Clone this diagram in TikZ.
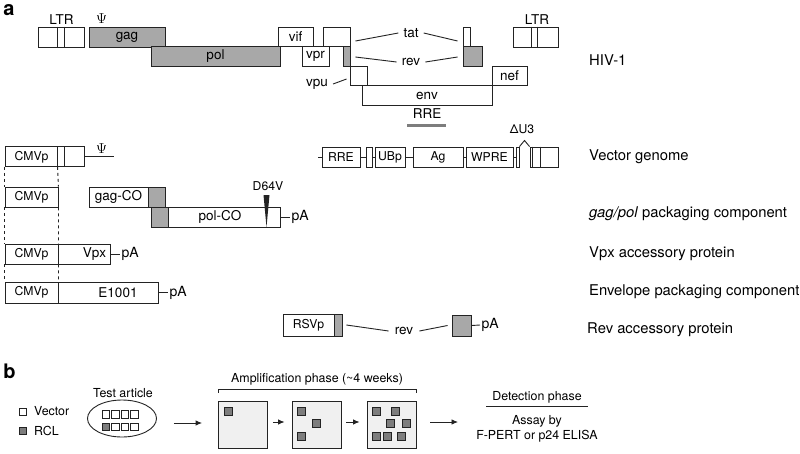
\documentclass[tikz,border=0pt]{standalone}
\usepackage{fontspec}
\setmainfont{TeX Gyre Heros}
\usetikzlibrary{shapes.geometric,arrows.meta,positioning}
\definecolor{genegray}{RGB}{168,168,168}
\definecolor{rclgray}{RGB}{125,125,125}
\definecolor{wellgray}{RGB}{240,240,240}
\definecolor{ink}{RGB}{35,35,35}

\begin{document}
\begin{tikzpicture}[x=1pt,y=-1pt,
  conn/.style={line width=0.9pt, draw=ink},
  gene/.style={conn, fill=white, inner sep=0pt, minimum height=19.5,
    font=\fontsize{13.5}{15}\selectfont},
  graygene/.style={gene, fill=genegray},
  smalltxt/.style={font=\fontsize{12.2}{14}\selectfont},
  lbl/.style={font=\fontsize{13.5}{15}\selectfont, inner sep=5pt},
  rowname/.style={anchor=west, inner sep=0pt, font=\fontsize{14.8}{16}\selectfont},
  pa/.style={anchor=west, inner sep=1.5pt, font=\fontsize{14}{16}\selectfont},
  psi/.style={font=\fontsize{15}{17}\selectfont},
  panel/.style={font=\fontsize{20}{22}\selectfont\bfseries},
  stage/.style={font=\fontsize{12.4}{15}\selectfont},
  arr/.style={conn, -{Latex[length=6.5pt,width=5.5pt]}},
  well/.style={conn, fill=wellgray, minimum width=49, minimum height=47, inner sep=0pt},
  rclsq/.style={conn, line width=0.7pt, fill=rclgray},
  vecsq/.style={conn, line width=0.7pt, fill=white},
]
\useasboundingbox (0,0) rectangle (800,453);
\fill[white] (0,0) rectangle (800,453);

% panel a: HIV-1 genome
\node[panel] (a) at (9,10) {a};

\node[gene, minimum width=46, minimum height=20] (ltr5) at (61,37) {};
\draw[conn] ([xshift=20]ltr5.north west) -- ([xshift=20]ltr5.south west)
            ([xshift=27]ltr5.north west) -- ([xshift=27]ltr5.south west);
\node[lbl, inner sep=0pt] (ltr5l) at (61.5,20) {LTR};
\node[psi] (psi1) at (101.5,19) {$\Psi$};
\node[graygene, minimum width=76, minimum height=20] (gag) at (127,37) {gag};
\node[graygene, minimum width=129] (pol) at (215.5,56.5) {pol};
\node[gene, minimum width=35] (vif) at (295.5,37) {vif};
\node[gene, minimum width=27] (vpr) at (315.5,56.5) {vpr};
\node[gene, minimum width=27] (tat1) at (336.5,37) {};
\node[graygene, minimum width=7] (rev1) at (346.5,56.5) {};
\node[gene, minimum width=17] (vpu) at (358.5,76) {};
\node[gene, minimum width=130] (env) at (427,95.5) {env};
\node[gene, minimum width=35] (nef) at (509.5,76) {nef};
\node[gene, minimum width=7] (tat2) at (466.5,37) {};
\node[graygene, minimum width=19] (rev2) at (472.5,56.5) {};
\node[gene, minimum width=45, minimum height=20] (ltr3) at (535.5,37) {};
\draw[conn] ([xshift=19]ltr3.north west) -- ([xshift=19]ltr3.south west)
            ([xshift=25]ltr3.north west) -- ([xshift=25]ltr3.south west);
\node[lbl, inner sep=0pt] (ltr3l) at (537,20) {LTR};

\node[lbl] (tat) at (411,33) {tat};
\node[lbl] (rev) at (411,62) {rev};
\node[lbl] (vpul) at (317,84) {vpu};
\draw[conn] ([shift={(5,4)}]tat1.east) -- (tat.west);
\draw[conn] (tat.east) -- ([shift={(-5,4)}]tat2.west);
\draw[conn] ([shift={(5,0.5)}]rev1.east) -- (rev.west);
\draw[conn] (rev.east) -- ([shift={(-5,0.5)}]rev2.west);
\draw[conn] (vpul.east) -- ([shift={(-3,3)}]vpu.west);

\node[lbl, inner sep=0pt] (rre) at (427,114) {RRE};
\draw[line width=3pt, rclgray] ([shift={(-20,11)}]rre.center) -- ([shift={(19,11)}]rre.center);

\node[rowname] (hiv) at (589,60) {HIV-1};

% vector genome
\node[gene, minimum width=79, minimum height=20] (vcmv) at (44.5,156.5) {};
\draw[conn] ([xshift=53]vcmv.north west) -- ([xshift=53]vcmv.south west)
            ([xshift=60]vcmv.north west) -- ([xshift=60]vcmv.south west);
\node[smalltxt] (vcmvl) at (31.5,157) {CMVp};
\coordinate[right=30pt of vcmv.east] (psiend);
\draw[conn] (vcmv.east) -- (psiend);
\node[psi] (psi2) at (101.5,148.5) {$\Psi$};

\coordinate (vstart) at (318,157);
\node[gene, smalltxt, minimum width=38, minimum height=20] (rre2) at (341,157) {RRE};
\node[gene, minimum width=6, minimum height=20] (sb1) at (369,157) {};
\node[gene, smalltxt, minimum width=30, minimum height=20] (ubp) at (390,157) {UBp};
\node[gene, smalltxt, minimum width=50, minimum height=20] (ag) at (438,157) {Ag};
\node[gene, smalltxt, minimum width=47, minimum height=20] (wpre) at (489.5,157) {WPRE};
\node[gene, minimum width=3, minimum height=20] (sb2) at (517.5,157) {};
\node[gene, minimum width=28, minimum height=20] (vltr) at (544,157) {};
\draw[conn] ([xshift=3]vltr.north west) -- ([xshift=3]vltr.south west)
            ([xshift=11]vltr.north west) -- ([xshift=11]vltr.south west);
\coordinate (u3tip) at (524.5,140.5);
\draw[conn] (vstart) -- (rre2.west);
\draw[conn] (rre2.east) -- (sb1.west);
\draw[conn] (sb1.east) -- (ubp.west);
\draw[conn] (ubp.east) -- (ag.west);
\draw[conn] (ag.east) -- (wpre.west);
\draw[conn] (wpre.east) -- (sb2.west);
\draw[conn] (sb2.north east) -- (u3tip) -- (vltr.north west);
\node[smalltxt] (du3) at (522,129) {ΔU3};

\node[rowname] (vg) at (589,157) {Vector genome};

% gag/pol packaging component
\node[gene, smalltxt, minimum width=53, minimum height=20] (gpcmv) at (31.5,197) {CMVp};
\node[gene, minimum width=59, minimum height=20] (gagco) at (118.5,197) {gag-CO};
\node[graygene, minimum width=17, minimum height=20] (gagcog) at (156.5,197) {};
\node[graygene, minimum width=17, minimum height=20] (polcog) at (159.5,217) {};
\node[gene, minimum width=112, minimum height=20] (polco) at (224,217) {};
\node[lbl, inner sep=0pt] (polcol) at (220,217) {pol-CO};
\fill[ink] (263.5,195) -- (269.5,195) -- (266.5,227) -- cycle;
\node[smalltxt] (d64v) at (268,186) {D64V};
\node[pa] (pa1) at (290,217) {pA};
\draw[conn] (polco.east) -- (pa1.west);

\node[rowname] (gp) at (589,214) {\emph{gag/pol} packaging component};

% Vpx accessory protein
\node[gene, smalltxt, minimum width=53, minimum height=20] (vxcmv) at (31.5,254) {CMVp};
\node[gene, minimum width=52, minimum height=20] (vpx) at (84,254) {};
\node[lbl, inner sep=0pt] (vpxl) at (94.5,254) {Vpx};
\node[pa] (pa2) at (120,254) {pA};
\draw[conn] (vpx.east) -- (pa2.west);

\node[rowname] (vx) at (589,254) {Vpx accessory protein};

% envelope packaging component
\node[gene, smalltxt, minimum width=53, minimum height=21] (ecmv) at (31.5,292.5) {CMVp};
\node[gene, minimum width=100, minimum height=21] (e1001) at (108,292.5) {};
\node[lbl, inner sep=0pt] (e1001l) at (118,292.5) {E1001};
\node[pa] (pa3) at (168,292.5) {pA};
\draw[conn] (e1001.east) -- (pa3.west);

\node[rowname] (ep) at (589,292) {Envelope packaging component};

% dashed guides
\draw[conn, dash pattern=on 3pt off 3pt] (vcmv.south west) -- (gpcmv.north west)
  (gpcmv.south west) -- (vxcmv.north west) (vxcmv.south west) -- (ecmv.north west);
\draw[conn, dash pattern=on 3pt off 3pt] ([xshift=53]vcmv.south west) -- (gpcmv.north east)
  (gpcmv.south east) -- (vxcmv.north east) (vxcmv.south east) -- (ecmv.north east);

% Rev accessory protein
\node[gene, smalltxt, minimum width=51, minimum height=22] (rsvp) at (308.5,325) {RSVp};
\node[graygene, minimum width=8, minimum height=22] (rsvg) at (338,325) {};
\node[lbl, inner sep=6pt] (revl) at (404,331) {rev};
\node[graygene, minimum width=19, minimum height=21] (rev3) at (461.5,325.5) {};
\node[pa] (pa4) at (480,325) {pA};
\draw[conn] ([xshift=4]rsvg.east) -- (revl.west);
\draw[conn] (revl.east) -- ([shift={(-4,0)}]rev3.west);
\draw[conn] (rev3.east) -- (pa4.west);

\node[rowname] (ra) at (587,330) {Rev accessory protein};

% panel b: assay
\node[panel] (b) at (9.5,371.5) {b};

\node[vecsq, minimum size=7, inner sep=0pt] (vsq) at (22.5,411.5) {};
\node[stage, anchor=west, inner sep=0pt] (vtxt) at (34,411.5) {Vector};
\node[rclsq, minimum size=7, inner sep=0pt] (rsq) at (22.5,431) {};
\node[stage, anchor=west, inner sep=0pt] (rtxt) at (34,431) {RCL};

\node[stage] (artl) at (123,393) {Test article};
\node[conn, ellipse, minimum width=69, minimum height=37, inner sep=0pt] (art) at (122,418.5) {};
\foreach \x in {106,115.5,125,134.5}
  \draw[vecsq] (\x-3.75,410.75) rectangle ++(7.5,7.5);
\draw[rclsq] (102.25,423.25) rectangle ++(7.5,7.5);
\foreach \x in {115.5,125,134.5}
  \draw[vecsq] (\x-3.75,423.25) rectangle ++(7.5,7.5);

\node[well] (amp1) at (243,424.5) {};
\node[well] (amp2) at (316.5,424.5) {};
\node[well] (amp3) at (391.5,424.5) {};
\foreach \x/\y in {228/411.5, 301.5/411.5, 316.5/423, 301.5/436.5,
    376/411.5, 395/411.5, 390.5/423, 406/423, 376/436.5, 387/436.5, 401/436.5}
  \draw[rclsq] (\x-4,\y-4) rectangle ++(8,8);

\draw[arr] ([shift={(17,4.5)}]art.east) -- ([shift={(-16,-1.5)}]amp1.west);
\draw[arr] ([shift={(5,-2.5)}]amp1.east) -- ([shift={(-7,-2.5)}]amp2.west);
\draw[arr] ([shift={(5,-2.5)}]amp2.east) -- ([shift={(-7,-2.5)}]amp3.west);
\coordinate (detin) at (458,422);
\draw[arr] ([shift={(14,-2.5)}]amp3.east) -- (detin);

\draw[conn] ([shift={(0,-8)}]amp1.north west) -- ([shift={(0,-11)}]amp1.north west)
  -- ([shift={(0,-11)}]amp3.north east) -- ([shift={(0,-8)}]amp3.north east);
\node[stage] (ampl) at (317,379) {Amplification phase (\textasciitilde 4 weeks)};

\node[stage, minimum width=101, minimum height=18, inner sep=0pt] (det) at (537,397) {Detection phase};
\draw[conn] (det.south west) -- (det.south east);
\node[stage, align=center, inner sep=0pt] (assay) at (537,428.5) {Assay by\\F-PERT or p24 ELISA};

\end{tikzpicture}
\end{document}
